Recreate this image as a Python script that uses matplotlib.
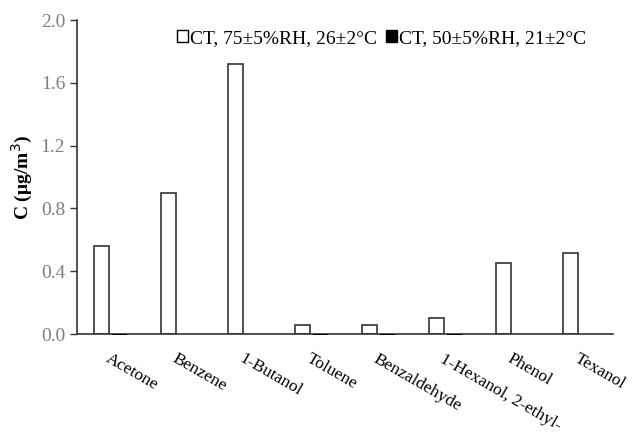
import matplotlib
matplotlib.use("Agg")
import matplotlib.pyplot as plt
import numpy as np

categories = ["Acetone", "Benzene", "1-Butanol", "Toluene", "Benzaldehyde",
              "1-Hexanol, 2-ethyl-", "Phenol", "Texanol"]
ct_75rh = [0.56, 0.90, 1.72, 0.055, 0.055, 0.10, 0.455, 0.515]
ct_50rh = [0.01, 0.0, 0.0, 0.01, 0.01, 0.01, 0.0, 0.0]
yticks = [0.0, 0.4, 0.8, 1.2, 1.6, 2.0]

plt.rcParams['font.family'] = ['Liberation Serif', 'DejaVu Serif']

fig = plt.figure(figsize=(6.38, 4.38), dpi=100)
ax = fig.add_axes([0.1207, 0.2374, 0.840, 0.7166])

x = np.arange(len(categories))
w = 0.22
edge = '#333333'
ax.bar(x - 0.13, ct_75rh, w, color='white', edgecolor=edge, linewidth=1.2,
       label='CT, 75±5%RH, 26±2°C', zorder=3)
ax.bar(x + 0.13, ct_50rh, w, bottom=-0.007, color='black', edgecolor='none',
       linewidth=0, label='CT, 50±5%RH, 21±2°C', zorder=5, clip_on=False)

ax.set_xlim(-0.5, len(categories) - 0.5)
ax.set_ylim(0, 2.0)
ax.set_yticks(yticks)
ax.set_yticklabels([f"{v:.1f}" for v in yticks], color='#7f7f7f', fontsize=14)
ax.tick_params(axis='y', direction='out', length=5, color=edge, width=1)
ax.set_xticks(x)
ax.set_xticklabels(categories, rotation=-30, ha='left', va='top',
                   rotation_mode='anchor', fontsize=12.5)
ax.tick_params(axis='x', length=0, pad=12)

for s in ['top', 'right']:
    ax.spines[s].set_visible(False)
for s in ['left', 'bottom']:
    ax.spines[s].set_color(edge)
    ax.spines[s].set_linewidth(1.2)
ax.spines['bottom'].set_zorder(4)

ax.set_ylabel('C (μg/m$^3$)', fontweight='bold', fontsize=14, labelpad=4)

leg = ax.legend(loc='upper right', bbox_to_anchor=(0.968, 1.0), ncol=2,
                frameon=False, fontsize=14, handlelength=0.55, handleheight=0.55,
                handletextpad=0.1, columnspacing=0.5, borderaxespad=0.1)
for h in leg.legend_handles:
    h.set_edgecolor('black')
    h.set_linewidth(1.0)

fig.savefig('out.png', dpi=100)
